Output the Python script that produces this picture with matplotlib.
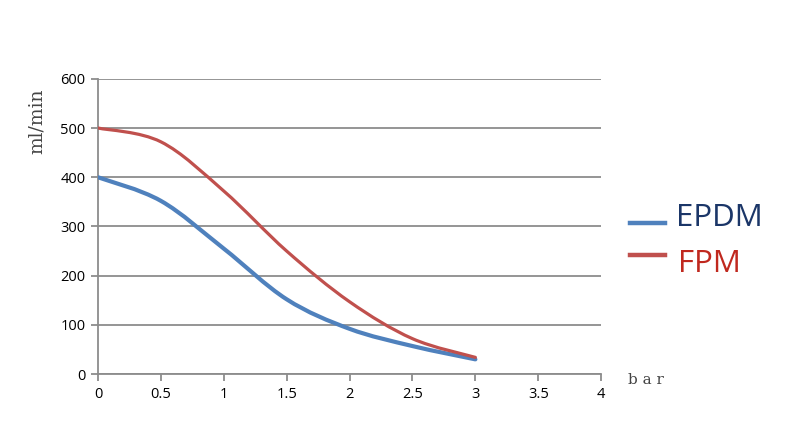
import matplotlib.pyplot as plt
import numpy as np
from matplotlib.path import Path
from matplotlib.patches import PathPatch
from matplotlib.lines import Line2D

# pressure (bar) vs flow (ml/min)
bar = [0, 0.5, 1, 1.5, 2, 2.5, 3]
epdm = [400, 352, 255, 152, 92, 57, 30]
fpm = [500, 472, 372, 250, 147, 72, 34]

xticks = [0, 0.5, 1, 1.5, 2, 2.5, 3, 3.5, 4]
xlabels = ['0', '0.5', '1', '1.5', '2', '2.5', '3', '3.5', '4']
yticks = [0, 100, 200, 300, 400, 500, 600]


def smooth_path(xs, ys):
    # excel style smoothed line: catmull-rom as cubic beziers
    pts = np.column_stack([xs, ys]).astype(float)
    n = len(pts)
    verts = [pts[0]]
    codes = [Path.MOVETO]
    for i in range(n - 1):
        p0 = pts[i - 1] if i > 0 else pts[i]
        p1 = pts[i]
        p2 = pts[i + 1]
        p3 = pts[i + 2] if i + 2 < n else pts[i + 1]
        c1 = p1 + (p2 - p0) / 6.0
        c2 = p2 - (p3 - p1) / 6.0
        verts += [c1, c2, p2]
        codes += [Path.CURVE4] * 3
    return Path(verts, codes)


fig = plt.figure(figsize=(7.9, 4.33), dpi=100)
ax = fig.add_axes([0.124, 0.136, 0.637, 0.682])

ax.add_patch(PathPatch(smooth_path(bar, epdm), fill=False, edgecolor='#4F81BD',
                       lw=3.0, capstyle='round', zorder=3))
ax.add_patch(PathPatch(smooth_path(bar, fpm), fill=False, edgecolor='#C0504D',
                       lw=2.3, capstyle='round', zorder=4))

ax.set_xlim(0, 4)
ax.set_ylim(0, 600)
ax.set_xticks(xticks)
ax.set_xticklabels(xlabels)
ax.set_yticks(yticks)

grey = '#8C8C8C'
ax.grid(True, axis='y', color=grey, lw=1.3)
ax.set_axisbelow(True)
for s in ['top', 'right']:
    ax.spines[s].set_visible(False)
for s in ['left', 'bottom']:
    ax.spines[s].set_color(grey)
    ax.spines[s].set_linewidth(1.3)
ax.tick_params(axis='both', color=grey, width=1.3, length=5, direction='out',
               labelsize=10.5, labelcolor='black', pad=4)
for lab in ax.get_xticklabels() + ax.get_yticklabels():
    lab.set_family('Open Sans')

fig.text(0.047, 0.72, 'ml/min', rotation=90, ha='center', va='center',
         family='DejaVu Serif', fontsize=13.5, color='#444444')
fig.text(0.795, 0.122, 'b a r', ha='left', va='center',
         family='DejaVu Serif', fontsize=11, color='#444444')

# legend
fig.add_artist(Line2D([0.798, 0.842], [1 - 223 / 433] * 2, color='#4F81BD',
                      lw=3.2, transform=fig.transFigure))
fig.add_artist(Line2D([0.798, 0.842], [1 - 255 / 433] * 2, color='#C0504D',
                      lw=3.2, transform=fig.transFigure))
fig.text(0.856, 1 - 218 / 433, 'EPDM', ha='left', va='center',
         family='Open Sans', fontsize=22.5, color='#1B3668')
fig.text(0.858, 1 - 264 / 433, 'FPM', ha='left', va='center',
         family='Open Sans', fontsize=22.5, color='#C0281E')

fig.savefig('out.png', dpi=100)
